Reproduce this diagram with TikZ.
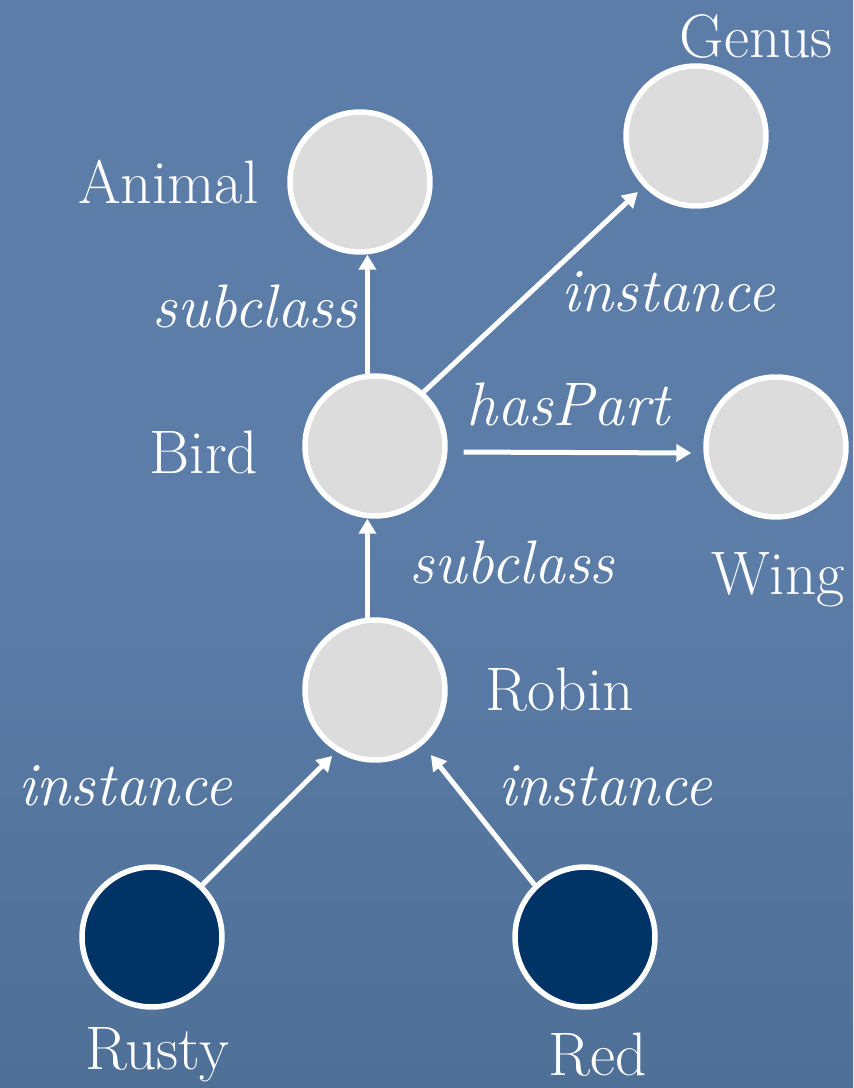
\documentclass[tikz,border=0pt]{standalone}
\usepackage{xcolor}
\usepackage{tikz}
\usetikzlibrary{positioning,arrows.meta,calc}
\definecolor{bgtop}{HTML}{5B7DA8}
\definecolor{bgbot}{HTML}{4E6F96}
\definecolor{cls}{HTML}{DCDCDC}
\definecolor{ind}{HTML}{003366}

\begin{document}
\begin{tikzpicture}[x=0.02cm,y=-0.02cm,
    font=\rmfamily\fontsize{35}{40}\selectfont,
    every node/.style={text=white},
    ball/.style={circle,draw=white,line width=0.11cm,fill=cls,minimum size=2.8cm,inner sep=0pt},
    iball/.style={ball,fill=ind},
    lbl/.style={font=\rmfamily\fontsize{35}{40}\selectfont\itshape},
    arr/.style={-{Triangle[length=0.3cm,width=0.34cm]},draw=white,line width=0.1cm}]
  % background
  \shade[top color=bgtop,bottom color=bgbot,middle color=bgtop] (0,0) rectangle (853,1088);
  \useasboundingbox (0,0) rectangle (853,1088);
  % nodes
  \node[ball] (animal) at (360,182) {};
  \node[ball] (genus) at (696,136) {};
  \node[ball] (bird) at (375,446) {};
  \node[ball] (wing) at (776,447) {};
  \node[ball] (robin) at (375,690) {};
  \node[iball] (rusty) at (152,937) {};
  \node[iball] (red) at (585,937) {};
  % names
  \node (tgenus) at (756,37) {Genus};
  \node[left=0.45cm of animal] (tanimal) {Animal};
  \node (tbird) at (204,452) {Bird};
  \node (twing) at (778,580) {Wing};
  \node (trobin) at (560,690) {Robin};
  \node (trusty) at (157,1055) {Rusty};
  \node (tred) at (598,1055) {Red};
  % links
  \draw[arr] (bird.96) -- (bird.96 |- animal.south);
  \draw[arr] (robin.96) -- (robin.96 |- bird.south);
  \draw[arr,shorten >=0.16cm] (bird.48) -- (genus.224);
  \draw[arr,shorten <=0.32cm,shorten >=0.24cm] ([yshift=-0.12cm]bird.east) -- ([yshift=-0.12cm]wing.west);
  \draw[arr,shorten >=0.12cm] (rusty.46) -- (robin.238);
  \draw[arr,shorten >=0.26cm] (red.134) -- (robin.311);
  % link labels
  \node[lbl] (lsub1) at (255,306) {subclass};
  \node[lbl] (linst1) at (668,292) {instance};
  \node[lbl] (lpart) at (568,404) {hasPart};
  \node[lbl] (lsub2) at (512,562) {subclass};
  \node[lbl] (linst2) at (125,786) {instance};
  \node[lbl] (linst3) at (605,786) {instance};
\end{tikzpicture}
\end{document}
